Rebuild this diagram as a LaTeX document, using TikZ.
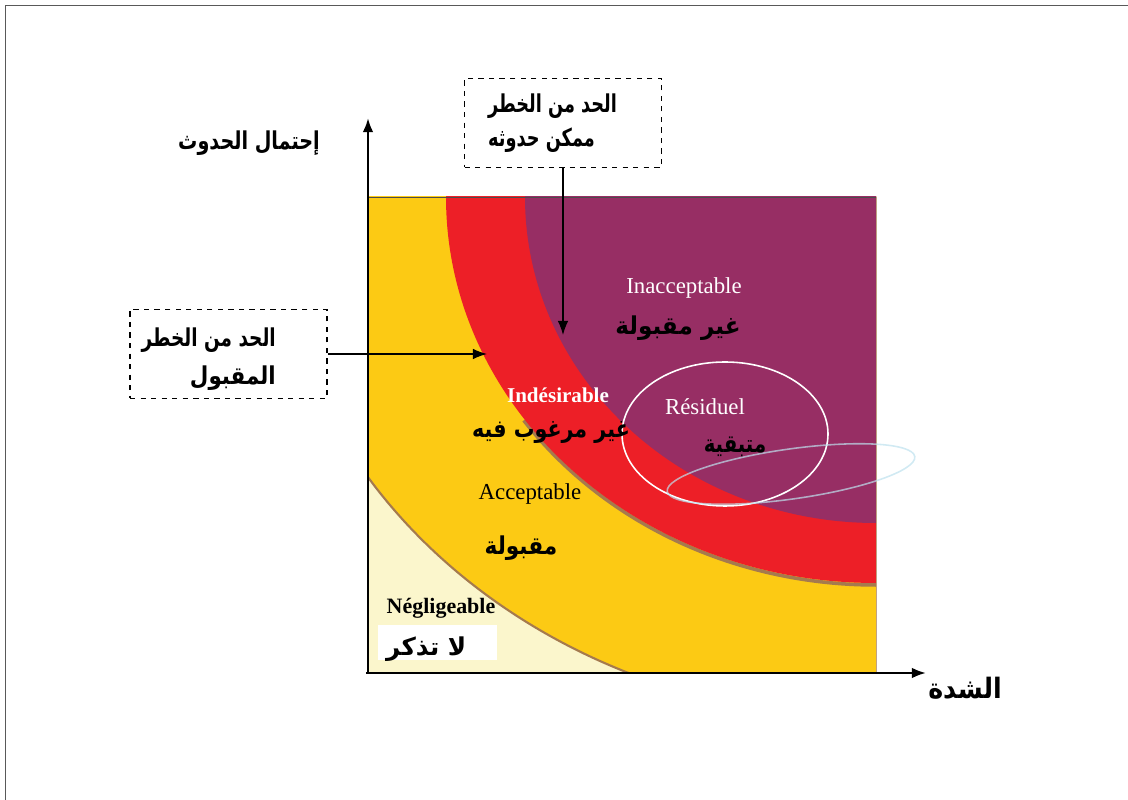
\documentclass[tikz,border=0pt]{standalone}
\usepackage{fontspec}
\usepackage{graphicx}
\setmainfont{Liberation Serif}
\newfontfamily\arabicfont[Script=Arabic]{DejaVu Sans}
\TeXXeTstate=1
\usetikzlibrary{arrows.meta}
\definecolor{cream}{RGB}{251,246,204}
\definecolor{riskyellow}{RGB}{252,202,20}
\definecolor{riskred}{RGB}{237,31,39}
\definecolor{riskpurple}{RGB}{151,46,100}
\definecolor{edgebrown}{RGB}{165,122,78}
\definecolor{paleblue}{RGB}{190,225,238}
% narrow right-to-left text
\newcommand{\rtl}[2][0.85]{\scalebox{#1}[1]{\beginR #2\endR}}
\begin{document}
\begin{tikzpicture}[x=0.02cm,y=0.02cm,
  ar/.style={font=\arabicfont\bfseries\fontsize{14}{16}\selectfont},
  fr/.style={font=\fontsize{13}{15}\selectfont},
  limitbox/.style={draw,dashed,thick,minimum width=197*0.02cm,minimum height=89*0.02cm},
  axis/.style={line width=1.4pt,-{Latex[length=8pt,width=6pt]}},
  pointer/.style={line width=0.7pt,-{Latex[length=8pt,width=6pt]}}]
\useasboundingbox (0,0) rectangle (1128,800);
\draw[gray!70!black] (5,0)--(5,795)--(1128,795);
% zones
\begin{scope}
  \clip (368,127) rectangle (876,603);
  \fill[cream] (368,127) rectangle (876,603);
  \fill[riskyellow] (876,603) ellipse (602 and 522);
  \draw[edgebrown,line width=1.2pt] (876,603) ellipse (602 and 522);
  \draw[edgebrown,line width=2pt] (876,215) arc[start angle=270,end angle=215,x radius=430,y radius=386];
  \fill[riskred] (876,603) ellipse (430 and 386);
  \fill[riskpurple] (876,603) ellipse (351 and 326);
\end{scope}
\draw[gray!60!black] (368,603)--(876,603);
\draw[edgebrown!70] (876,603)--(876,127);
% residual
\draw[white,line width=0.9pt] (725,366) ellipse (103 and 72);
\draw[paleblue,opacity=0.7,line width=0.9pt,rotate around={8:(791,326)}] (791,326) ellipse (125 and 25);
% axes
\draw[axis] (368,127)--(368,682);
\draw[axis] (366,127)--(926,127);
\node[ar] (yaxis) at (249,657) {\rtl[0.78]{إحتمال الحدوث}};
\node[ar,font=\arabicfont\bfseries\fontsize{16}{18}\selectfont] (xaxis) at (965,112) {\rtl[0.9]{الشدة}};
% zone labels
\node[fr,white] (inacc) at (684,512) {Inacceptable};
\node[ar] (inaccar) at (678,472) {\rtl[0.94]{غير مقبولة}};
\node[fr,white,font=\bfseries\fontsize{12}{14}\selectfont] (indes) at (558,405) {Indésirable};
\node[ar] (indesar) at (551,368) {\rtl[0.84]{غير مرغوب فيه}};
\node[fr,white] (resid) at (705,393) {Résiduel};
\node[ar] (residar) at (735,353) {\rtl[0.8]{متبقية}};
\node[fr] (accept) at (530,306) {Acceptable};
\node[ar] (acceptar) at (521,252) {\rtl[0.88]{مقبولة}};
\node[fr,font=\bfseries\fontsize{12.5}{14}\selectfont] (neglig) at (441,192) {Négligeable};
\fill[white] (378,140) rectangle (497,175);
\node[ar,anchor=west] (negligar) at (380,151) {\rtl[1]{لا تذكر}};
% limits
\node[limitbox] (boxtop) at (563,677) {};
\node[ar,anchor=west] (toplineA) at (482,694) {\rtl[0.72]{الحد من الخطر}};
\node[ar,anchor=west] (toplineB) at (482,660) {\rtl[0.72]{ممكن حدوثه}};
\node[limitbox] (boxleft) at (228.5,446) {};
\node[ar,anchor=east] (leftlineA) at (282,460) {\rtl[0.75]{الحد من الخطر}};
\node[ar,anchor=east] (leftlineB) at (282,422) {\rtl[0.87]{المقبول}};
\coordinate (tiptop) at (563,465);
\coordinate (tipleft) at (487,446);
\draw[pointer] (boxtop.south)--(tiptop);
\draw[pointer] (boxleft.east)--(tipleft);
\end{tikzpicture}
\end{document}
